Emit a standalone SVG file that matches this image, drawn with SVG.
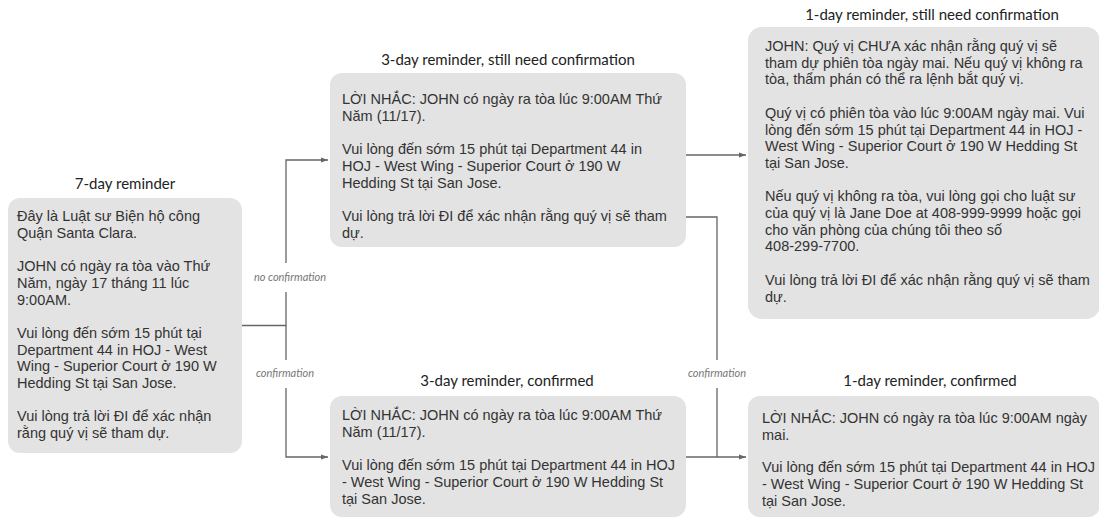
<svg xmlns="http://www.w3.org/2000/svg" width="1099" height="518" viewBox="0 0 1099 518">
<style>
.box{fill:#e3e3e3;}
.body{font-family:"Liberation Sans",Arial,sans-serif;font-size:14.5px;fill:#333;}
.title{font-family:Lato,"Liberation Sans",sans-serif;font-size:15px;fill:#222;text-anchor:middle;}
.lbl{font-family:Lato,"Liberation Sans",sans-serif;font-size:11px;font-style:italic;fill:#777;text-anchor:middle;}
.conn{fill:none;stroke:#666;stroke-width:1.3;}
.lblbg{fill:#fff;}
</style>
<defs>
<marker id="arr" markerWidth="8" markerHeight="6" refX="7" refY="3" orient="auto" markerUnits="userSpaceOnUse">
<path d="M0,0.5 L7,3 L0,5.5 Z" fill="#666"/>
</marker>
</defs>
<rect width="1099" height="518" fill="#fff"/>

<g id="connectors">
<path class="conn" d="M242,325.5 H286 V160 H328" marker-end="url(#arr)"/>
<path class="conn" d="M286,325.5 V457 H328" marker-end="url(#arr)"/>
<path class="conn" d="M686,155 H746" marker-end="url(#arr)"/>
<path class="conn" d="M686,217 H717 V457"/>
<path class="conn" d="M686,457 H746" marker-end="url(#arr)"/>
<rect class="lblbg" x="252" y="263" width="78" height="29"/>
<text class="lbl" x="290" y="281">no confirmation</text>
<rect class="lblbg" x="254" y="360" width="62" height="28"/>
<text class="lbl" x="285" y="377">confirmation</text>
<rect class="lblbg" x="686" y="360" width="62" height="28"/>
<text class="lbl" x="717" y="377">confirmation</text>
</g>

<g id="node-7day">
<text class="title" x="125" y="189">7-day reminder</text>
<rect class="box" x="8" y="198" width="234" height="255" rx="12"/>
<text class="body">
<tspan x="17" y="221">Đây là Luật sư Biện hộ công</tspan>
<tspan x="17" y="237.7">Quận Santa Clara.</tspan>
<tspan x="17" y="271.1">JOHN có ngày ra tòa vào Thứ</tspan>
<tspan x="17" y="287.8">Năm, ngày 17 tháng 11 lúc</tspan>
<tspan x="17" y="304.5">9:00AM.</tspan>
<tspan x="17" y="337.9">Vui lòng đến sớm 15 phút tại</tspan>
<tspan x="17" y="354.6">Department 44 in HOJ - West</tspan>
<tspan x="17" y="371.3">Wing - Superior Court ở 190 W</tspan>
<tspan x="17" y="388">Hedding St tại San Jose.</tspan>
<tspan x="17" y="421.4">Vui lòng trả lời ĐI để xác nhận</tspan>
<tspan x="17" y="438.1">rằng quý vị sẽ tham dự.</tspan>
</text>
</g>

<g id="node-3day-need">
<text class="title" x="508" y="65">3-day reminder, still need confirmation</text>
<rect class="box" x="330" y="73" width="356" height="174" rx="12"/>
<text class="body">
<tspan x="342" y="104">LỜI NHẮC: JOHN có ngày ra tòa lúc 9:00AM Thứ</tspan>
<tspan x="342" y="120.7">Năm (11/17).</tspan>
<tspan x="342" y="154.1">Vui lòng đến sớm 15 phút tại Department 44 in</tspan>
<tspan x="342" y="170.8">HOJ - West Wing - Superior Court ở 190 W</tspan>
<tspan x="342" y="187.5">Hedding St tại San Jose.</tspan>
<tspan x="342" y="220.9">Vui lòng trả lời ĐI để xác nhận rằng quý vị sẽ tham</tspan>
<tspan x="342" y="237.6">dự.</tspan>
</text>
</g>

<g id="node-1day-need">
<text class="title" x="932" y="20">1-day reminder, still need confirmation</text>
<rect class="box" x="748" y="27" width="352" height="292" rx="14"/>
<text class="body">
<tspan x="765" y="51">JOHN: Quý vị CHƯA xác nhận rằng quý vị sẽ</tspan>
<tspan x="765" y="67.7">tham dự phiên tòa ngày mai. Nếu quý vị không ra</tspan>
<tspan x="765" y="84.4">tòa, thẩm phán có thể ra lệnh bắt quý vị.</tspan>
<tspan x="765" y="117.8">Quý vị có phiên tòa vào lúc 9:00AM ngày mai. Vui</tspan>
<tspan x="765" y="134.5">lòng đến sớm 15 phút tại Department 44 in HOJ -</tspan>
<tspan x="765" y="151.2">West Wing - Superior Court ở 190 W Hedding St</tspan>
<tspan x="765" y="167.9">tại San Jose.</tspan>
<tspan x="765" y="201.3">Nếu quý vị không ra tòa, vui lòng gọi cho luật sư</tspan>
<tspan x="765" y="218">của quý vị là Jane Doe at 408-999-9999 hoặc gọi</tspan>
<tspan x="765" y="234.7">cho văn phòng của chúng tôi theo số</tspan>
<tspan x="765" y="251.4">408-299-7700.</tspan>
<tspan x="765" y="284.8">Vui lòng trả lời ĐI để xác nhận rằng quý vị sẽ tham</tspan>
<tspan x="765" y="301.5">dự.</tspan>
</text>
</g>

<g id="node-3day-confirmed">
<text class="title" x="507" y="386">3-day reminder, confirmed</text>
<rect class="box" x="330" y="396" width="356" height="121" rx="12"/>
<text class="body">
<tspan x="342" y="420">LỜI NHẮC: JOHN có ngày ra tòa lúc 9:00AM Thứ</tspan>
<tspan x="342" y="436.7">Năm (11/17).</tspan>
<tspan x="342" y="470.1">Vui lòng đến sớm 15 phút tại Department 44 in HOJ</tspan>
<tspan x="342" y="486.8">- West Wing - Superior Court ở 190 W Hedding St</tspan>
<tspan x="342" y="503.5">tại San Jose.</tspan>
</text>
</g>

<g id="node-1day-confirmed">
<text class="title" x="930" y="386">1-day reminder, confirmed</text>
<rect class="box" x="748" y="396" width="352" height="121" rx="12"/>
<text class="body">
<tspan x="762" y="423">LỜI NHẮC: JOHN có ngày ra tòa lúc 9:00AM ngày</tspan>
<tspan x="762" y="439.7">mai.</tspan>
<tspan x="762" y="472.1">Vui lòng đến sớm 15 phút tại Department 44 in HOJ</tspan>
<tspan x="762" y="488.8">- West Wing - Superior Court ở 190 W Hedding St</tspan>
<tspan x="762" y="505.5">tại San Jose.</tspan>
</text>
</g>
</svg>
